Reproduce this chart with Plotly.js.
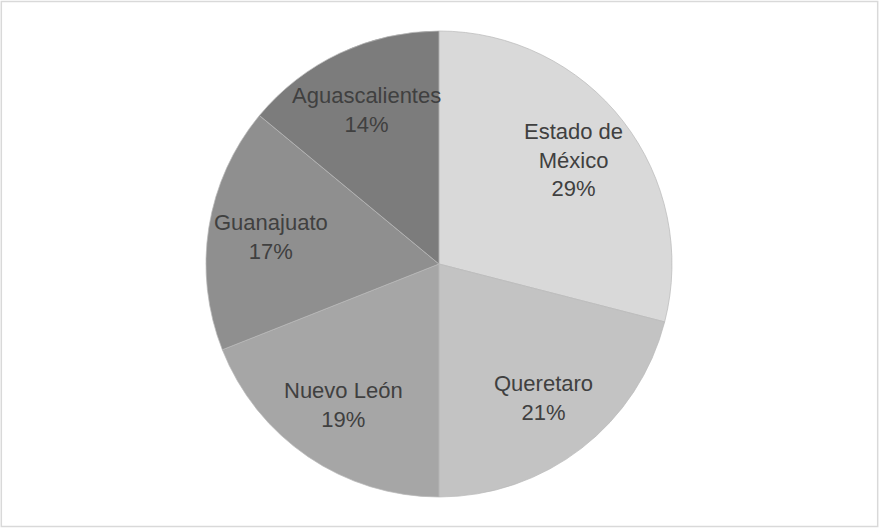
<!DOCTYPE html>
<html>
<head>
<meta charset="utf-8">
<script src="https://cdn.plot.ly/plotly-3.0.1.min.js"></script>
<style>html,body{margin:0;padding:0;background:#fff;}#chart{width:879px;height:528px;}</style>
</head>
<body>
<div id="chart"></div>
<script>
const categories = ["Estado de<br>México", "Queretaro", "Nuevo León", "Guanajuato", "Aguascalientes"];
const shares = [29, 21, 19, 17, 14];
const sliceColors = ["#d9d9d9", "#c3c3c3", "#a6a6a6", "#8f8f8f", "#7c7c7c"];

const W = 879, H = 528;
const dom = {x: [0.2332, 0.7656], y: [0.0587, 0.9413]};
const labelRadius = 0.73;

const trace = {
  type: "pie",
  labels: categories,
  values: shares,
  sort: false,
  direction: "clockwise",
  rotation: 0,
  marker: {colors: sliceColors, line: {color: "rgba(185,185,185,0.9)", width: 0.8}},
  textinfo: "none",
  hoverinfo: "label+percent",
  showlegend: false,
  domain: dom
};

// data labels placed at each slice's mid angle (computed from the values)
const total = shares.reduce((a, b) => a + b, 0);
const cx = (dom.x[0] + dom.x[1]) / 2 * W;
const cy = (dom.y[0] + dom.y[1]) / 2 * H;
const R = Math.min((dom.x[1] - dom.x[0]) * W, (dom.y[1] - dom.y[0]) * H) / 2;
let cum = 0;
const annotations = shares.map((v, i) => {
  const mid = (cum + v / 2) / total * 2 * Math.PI;
  cum += v;
  const px = cx + labelRadius * R * Math.sin(mid);
  const py = cy + labelRadius * R * Math.cos(mid);
  return {
    xref: "paper", yref: "paper", x: px / W, y: py / H,
    xanchor: "center", yanchor: "middle", showarrow: false,
    text: categories[i] + "<br>" + Math.round(v / total * 100) + "%",
    font: {family: "Liberation Sans, Arial, sans-serif", size: 22, color: "#404040"}
  };
});

const layout = {
  width: W, height: H,
  margin: {l: 0, r: 0, t: 0, b: 0},
  paper_bgcolor: "#ffffff",
  showlegend: false,
  annotations: annotations,
  shapes: [{type: "rect", xref: "paper", yref: "paper", x0: 0.0015, x1: 0.9985, y0: 0.003, y1: 0.997,
            line: {color: "#d9d9d9", width: 1.5}, fillcolor: "rgba(0,0,0,0)"}]
};

Plotly.newPlot("chart", [trace], layout, {displayModeBar: false, staticPlot: true});
</script>
</body>
</html>
